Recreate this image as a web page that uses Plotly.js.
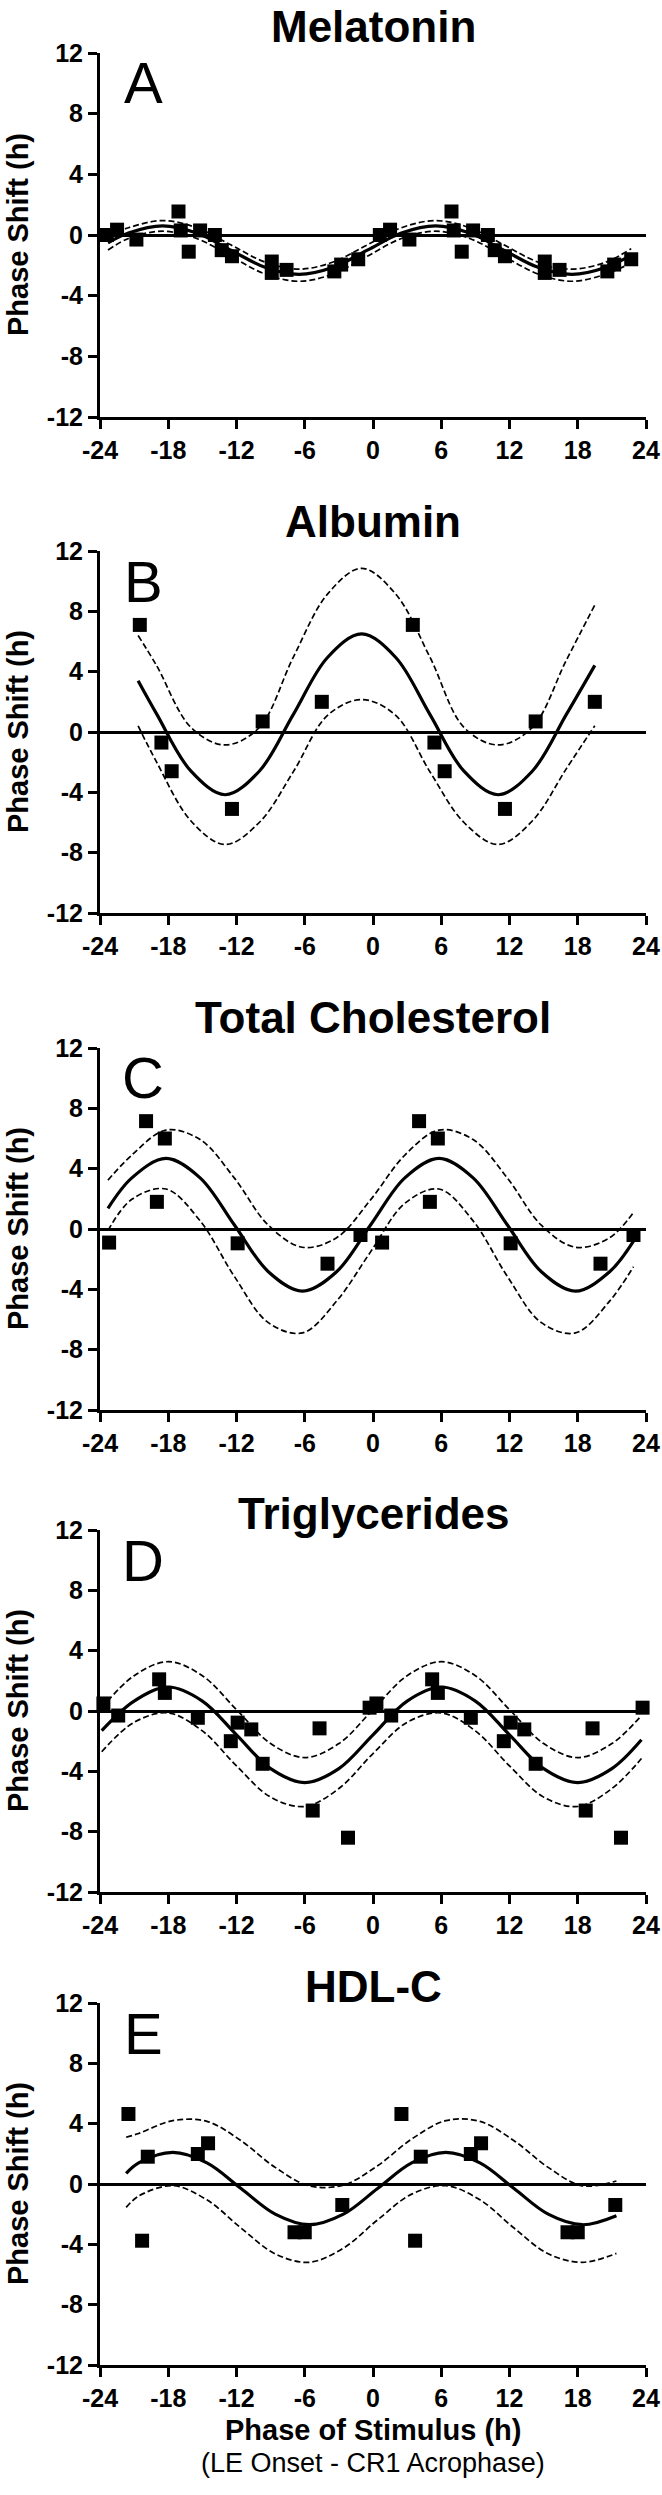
<!DOCTYPE html>
<html>
<head>
<meta charset="utf-8">
<script src="https://cdn.plot.ly/plotly-3.0.1.min.js"></script>
<style>
  html, body { margin: 0; padding: 0; background: #fff; }
  #chart { width: 662px; height: 2495px; }
</style>
</head>
<body>
<div id="chart"></div>
<script>
// ---------------- DATA ----------------
var panelTitles = ["Melatonin", "Albumin", "Total Cholesterol", "Triglycerides", "HDL-C"];
var panelLetters = ["A", "B", "C", "D", "E"];
var xTicks = [-24, -18, -12, -6, 0, 6, 12, 18, 24];
var yTicks = [-12, -8, -4, 0, 4, 8, 12];
var yAxisLabel = "Phase Shift (h)";
var xAxisLabel = "Phase of Stimulus (h)";
var xAxisSubLabel = "(LE Onset - CR1 Acrophase)";

// Panel A – Melatonin (double-plotted observations)
var melPhase = [-23.4, -22.5, -20.8, -17.1, -16.9, -16.2, -15.2, -13.9, -13.3, -12.4, -8.9, -8.9, -7.6, -3.4, -2.8, -1.3,
                0.6, 1.5, 3.2, 6.9, 7.1, 7.8, 8.8, 10.1, 10.7, 11.6, 15.1, 15.1, 16.4, 20.6, 21.2, 22.7];
var melShift = [0.0, 0.35, -0.3, 1.55, 0.3, -1.1, 0.3, 0.0, -1.0, -1.4, -1.75, -2.5, -2.3, -2.4, -1.95, -1.6,
                0.0, 0.35, -0.3, 1.55, 0.3, -1.1, 0.3, 0.0, -1.0, -1.4, -1.75, -2.5, -2.3, -2.4, -1.95, -1.6];
var melCurveX = [-23.3, -21.5, -18.5, -15.5, -12.5, -9.5, -6.5, -3.5, -0.5, 2.5, 5.5, 8.5, 11.5, 14.5, 17.5, 20.5, 22.7];
var melFit   = [-0.51, 0.13, 0.6, 0.13, -1.0, -2.13, -2.6, -2.13, -1.0, 0.13, 0.6, 0.13, -1.0, -2.13, -2.6, -2.13, -1.33];
var melUpper = [-0.06, 0.48, 0.95, 0.48, -0.65, -1.78, -2.25, -1.78, -0.65, 0.48, 0.95, 0.48, -0.65, -1.78, -2.25, -1.78, -0.9];
var melLower = [-0.99, -0.23, 0.25, -0.23, -1.4, -2.57, -3.05, -2.57, -1.4, -0.23, 0.25, -0.23, -1.4, -2.57, -3.05, -2.57, -1.84];

// Panel B – Albumin
var albPhase = [-20.5, -18.6, -17.7, -12.4, -9.7, -4.5, 3.5, 5.4, 6.3, 11.6, 14.3, 19.5];
var albShift = [7.1, -0.7, -2.6, -5.1, 0.7, 2.0, 7.1, -0.7, -2.6, -5.1, 0.7, 2.0];
var albCurveX = [-20.65, -19, -16, -13, -10, -7, -4, -1, 2, 5, 8, 11, 14, 17, 19.5];
var albFit   = [3.4, 1.17, -2.6, -4.16, -2.6, 1.17, 4.94, 6.5, 4.94, 1.17, -2.6, -4.16, -2.6, 1.17, 4.42];
var albUpper = [6.4, 4.37, 0.3, -0.86, 0.3, 4.97, 9.14, 10.85, 9.14, 4.97, 0.3, -0.86, 0.3, 4.77, 8.42];
var albLower = [0.4, -2.03, -5.9, -7.46, -6.0, -2.63, 1.1, 2.15, 1.1, -2.63, -6.0, -7.46, -5.9, -2.43, 0.42];

// Panel C – Total Cholesterol
var tcPhase = [-23.2, -19.95, -19.0, -18.3, -11.9, -4.0, -1.1, 0.8, 4.05, 5.0, 5.7, 12.1, 20.0, 22.9];
var tcShift = [-0.9, 7.15, 1.8, 6.0, -0.95, -2.3, -0.4, -0.9, 7.15, 1.8, 6.0, -0.95, -2.3, -0.4];
var tcCurveX = [-23.3, -21.2, -18.2, -15.2, -12.2, -9.2, -6.2, -3.2, -0.2, 2.8, 5.8, 8.8, 11.8, 14.8, 17.8, 20.8, 22.9];
var tcFit   = [1.37, 3.39, 4.68, 3.39, 0.28, -2.83, -4.12, -2.83, 0.28, 3.39, 4.68, 3.39, 0.28, -2.83, -4.12, -2.83, -0.8];
var tcUpper = [3.24, 4.9, 6.56, 5.93, 3.39, 0.25, -1.21, -0.58, 1.95, 4.9, 6.56, 5.93, 3.39, 0.25, -1.21, -0.58, 1.1];
var tcLower = [-0.1, 1.97, 2.65, 0.54, -3.13, -6.21, -6.89, -4.78, -1.5, 1.7, 2.65, 0.54, -3.13, -6.21, -6.89, -4.78, -2.5];

// Panel D – Triglycerides
var tgPhase = [-23.7, -22.4, -18.8, -18.3, -15.4, -12.5, -11.9, -10.7, -9.7, -5.3, -4.7, -2.2, -0.3,
               0.3, 1.6, 5.2, 5.7, 8.6, 11.5, 12.1, 13.3, 14.3, 18.7, 19.3, 21.8, 23.7];
var tgShift = [0.5, -0.3, 2.1, 1.2, -0.45, -2.0, -0.77, -1.22, -3.5, -6.6, -1.15, -8.4, 0.22,
               0.5, -0.3, 2.1, 1.2, -0.45, -2.0, -0.77, -1.22, -3.5, -6.6, -1.15, -8.4, 0.22];
var tgCurveX = [-23.85, -21, -18, -15, -12, -9, -6, -3, 0, 3, 6, 9, 12, 15, 18, 21, 23.6];
var tgFit   = [-1.3, 0.66, 1.59, 0.66, -1.58, -3.82, -4.75, -3.82, -1.58, 0.66, 1.59, 0.66, -1.58, -3.82, -4.75, -3.82, -1.91];
var tgUpper = [0.2, 2.34, 3.27, 2.34, 0.09, -2.16, -3.09, -2.16, 0.09, 2.34, 3.27, 2.34, 0.09, -2.16, -3.09, -2.16, -0.3];
var tgLower = [-2.7, -0.75, -0.13, -1.32, -3.64, -5.71, -6.33, -5.14, -2.82, -0.75, -0.13, -1.32, -3.64, -5.71, -6.33, -5.14, -3.15];

// Panel E – HDL-C
var hdlPhase = [-21.5, -20.3, -19.8, -15.4, -14.5, -6.9, -6.0, -2.7, 2.5, 3.7, 4.2, 8.6, 9.5, 17.1, 18.0, 21.3];
var hdlShift = [4.64, -3.76, 1.81, 1.99, 2.7, -3.2, -3.2, -1.39, 4.64, -3.76, 1.81, 1.99, 2.7, -3.2, -3.2, -1.39];
var hdlCurveX = [-21.7, -20.6, -17.6, -14.6, -11.6, -8.6, -5.6, -2.6, 0.4, 3.4, 6.4, 9.4, 12.4, 15.4, 18.4, 21.4];
var hdlFit   = [0.7, 1.4, 2.1, 1.4, -0.3, -2.0, -2.7, -2.0, -0.3, 1.4, 2.1, 1.4, -0.3, -2.0, -2.7, -2.1];
var hdlUpper = [3.1, 3.35, 4.2, 4.15, 2.87, 1.1, -0.12, -0.07, 1.21, 2.98, 4.2, 4.15, 2.87, 1.1, -0.12, 0.2];
var hdlLower = [-1.55, -0.8, -0.11, -1.05, -2.92, -4.63, -5.19, -4.25, -2.38, -0.67, -0.11, -1.05, -2.92, -4.63, -5.19, -4.6];

var panels = [
  {px: melPhase, py: melShift, cx: melCurveX, fit: melFit, up: melUpper, lo: melLower},
  {px: albPhase, py: albShift, cx: albCurveX, fit: albFit, up: albUpper, lo: albLower},
  {px: tcPhase,  py: tcShift,  cx: tcCurveX,  fit: tcFit,  up: tcUpper,  lo: tcLower},
  {px: tgPhase,  py: tgShift,  cx: tgCurveX,  fit: tgFit,  up: tgUpper,  lo: tgLower},
  {px: hdlPhase, py: hdlShift, cx: hdlCurveX, fit: hdlFit, up: hdlUpper, lo: hdlLower}
];

// ---------------- LAYOUT (pixel geometry of the figure) ----------------
var W = 662, H = 2495;
var plotLeft = 100, plotRight = 646;
var plotTops = [53, 551, 1048, 1530, 2003];
var plotBottoms = [417, 913, 1410, 1892, 2365];
var titleYs = [26, 521, 1018, 1513, 1986];
var FONT = "'Liberation Sans', Arial, Helvetica, sans-serif";

function fx(p) { return p / W; }
function fy(p) { return 1 - p / H; }

var data = [];
var layout = {
  width: W, height: H, autosize: false,
  margin: {l: 0, r: 0, t: 0, b: 0},
  paper_bgcolor: '#ffffff', plot_bgcolor: 'rgba(0,0,0,0)',
  showlegend: false,
  font: {family: FONT, color: '#000'},
  annotations: []
};

panels.forEach(function (p, i) {
  var n = i + 1;
  var xa = 'x' + (n === 1 ? '' : n), ya = 'y' + (n === 1 ? '' : n);
  var xKey = 'xaxis' + (n === 1 ? '' : n), yKey = 'yaxis' + (n === 1 ? '' : n);
  var dashLine = {color: '#000', width: 1.7, dash: '6px,3px', shape: 'spline', smoothing: 1};
  data.push({type: 'scatter', mode: 'lines', x: p.cx, y: p.lo, xaxis: xa, yaxis: ya, line: dashLine, hoverinfo: 'skip', cliponaxis: false});
  data.push({type: 'scatter', mode: 'lines', x: p.cx, y: p.up, xaxis: xa, yaxis: ya, line: dashLine, hoverinfo: 'skip', cliponaxis: false});
  data.push({type: 'scatter', mode: 'lines', x: p.cx, y: p.fit, xaxis: xa, yaxis: ya,
             line: {color: '#000', width: 3.2, shape: 'spline', smoothing: 1}, hoverinfo: 'skip', cliponaxis: false});
  data.push({type: 'scatter', mode: 'markers', x: p.px, y: p.py, xaxis: xa, yaxis: ya,
             marker: {symbol: 'square', size: 14, color: '#000', line: {width: 0}}, cliponaxis: false});

  var tickFont = {family: FONT, size: 25, color: '#000', weight: 'bold'};
  layout[xKey] = {
    domain: [fx(plotLeft), fx(plotRight)], anchor: ya, range: [-24, 24],
    tickvals: xTicks, ticktext: xTicks.map(String), tickfont: tickFont,
    showline: true, linewidth: 3, linecolor: '#000',
    ticks: 'outside', ticklen: 9, tickwidth: 3, tickcolor: '#000',
    showgrid: false, zeroline: false, fixedrange: true
  };
  layout[yKey] = {
    domain: [fy(plotBottoms[i]), fy(plotTops[i])], anchor: xa, range: [-12, 12],
    tickvals: yTicks, ticktext: yTicks.map(String), tickfont: tickFont,
    showline: true, linewidth: 3, linecolor: '#000',
    ticks: 'outside', ticklen: 9, tickwidth: 3, tickcolor: '#000',
    showgrid: false, zeroline: true, zerolinewidth: 3, zerolinecolor: '#000', fixedrange: true
  };

  layout.annotations.push({
    xref: 'paper', yref: 'paper', x: fx((plotLeft + plotRight) / 2), y: fy(titleYs[i]),
    xanchor: 'center', yanchor: 'middle', showarrow: false,
    text: panelTitles[i], font: {family: FONT, size: 44, color: '#000', weight: 'bold'}
  });
  layout.annotations.push({
    xref: 'paper', yref: 'paper', x: fx(143), y: fy(plotTops[i] + 30),
    xanchor: 'center', yanchor: 'middle', showarrow: false,
    text: panelLetters[i], font: {family: FONT, size: 58, color: '#000'}
  });
  layout.annotations.push({
    xref: 'paper', yref: 'paper', x: fx(18), y: fy((plotTops[i] + plotBottoms[i]) / 2),
    xanchor: 'center', yanchor: 'middle', showarrow: false, textangle: -90,
    text: yAxisLabel, font: {family: FONT, size: 29, color: '#000', weight: 'bold'}
  });
});

layout.annotations.push({
  xref: 'paper', yref: 'paper', x: fx((plotLeft + plotRight) / 2), y: fy(2430),
  xanchor: 'center', yanchor: 'middle', showarrow: false,
  text: xAxisLabel, font: {family: FONT, size: 29, color: '#000', weight: 'bold'}
});
layout.annotations.push({
  xref: 'paper', yref: 'paper', x: fx((plotLeft + plotRight) / 2), y: fy(2463),
  xanchor: 'center', yanchor: 'middle', showarrow: false,
  text: xAxisSubLabel, font: {family: FONT, size: 27, color: '#000'}
});

Plotly.newPlot('chart', data, layout, {staticPlot: true, displayModeBar: false});
</script>
</body>
</html>
